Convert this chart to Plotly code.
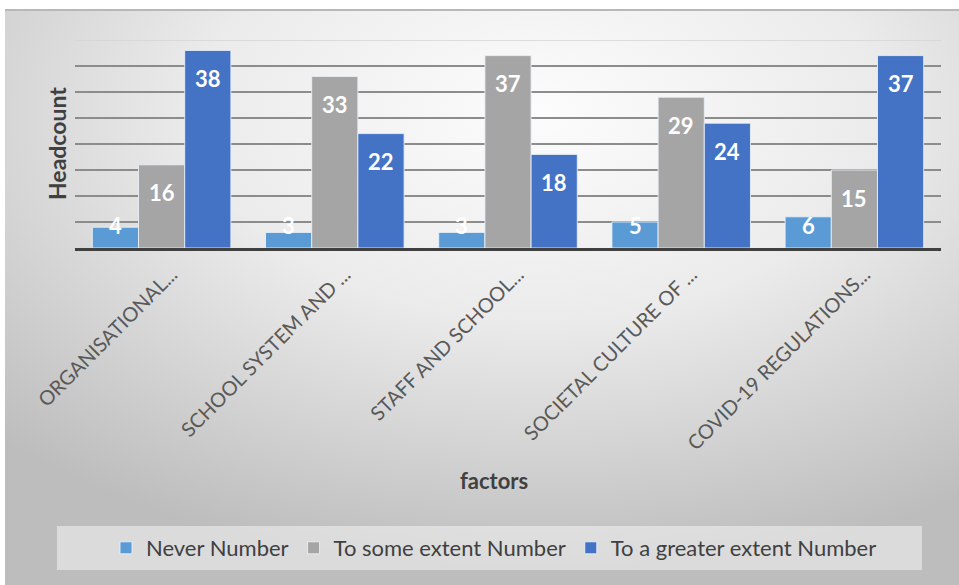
import base64
import plotly.graph_objects as go

# Survey results: how much each factor affected respondents
categories = [
    "ORGANISATIONAL...",
    "SCHOOL SYSTEM AND ...",
    "STAFF AND SCHOOL...",
    "SOCIETAL CULTURE OF ...",
    "COVID-19 REGULATIONS...",
]
never = [4, 3, 3, 5, 6]
some_extent = [16, 33, 37, 29, 15]
greater_extent = [38, 22, 18, 24, 37]

series_names = ["Never Number", "To some extent Number", "To a greater extent Number"]
series_colors = ["#5B9BD5", "#A5A5A5", "#4472C4"]
series_values = [never, some_extent, greater_extent]

W, H = 959, 585
PL, PR, PT, PB = 75, 941, 40, 248   # plot area in pixels
Y_MAX = 40
FONT = "Lato, 'Open Sans', sans-serif"


def px_x(x):
    return (x - PL) / (PR - PL)


def px_y(y):
    return (PB - y) / (PB - PT)


x_idx = list(range(len(categories)))

fig = go.Figure()
for name, color, vals in zip(series_names, series_colors, series_values):
    fig.add_trace(go.Bar(
        x=x_idx, y=vals, name=name,
        marker=dict(color=color, line=dict(color="rgba(235,242,250,0.85)", width=1)),
        hoverinfo="y+name",
    ))

# Value labels: white, bold, just inside the bar end; short bars get a fixed lift
group_width = 0.8
bar_w = group_width / len(series_values)
px_per_unit = (PB - PT) / Y_MAX
annotations = []
for s, vals in enumerate(series_values):
    offset = -group_width / 2 + bar_w * (s + 0.5)
    for i, v in enumerate(vals):
        inside = v * px_per_unit - 28
        if inside >= 23:
            y, shift = v, -28
        else:
            y, shift = 0, 23
        annotations.append(dict(
            x=i + offset, y=y, xref="x", yref="y", yshift=shift,
            text=f"<b>{v}</b>", showarrow=False,
            font=dict(family=FONT, size=22, color="white"),
            xanchor="center", yanchor="middle",
        ))

# Axis titles
annotations.append(dict(
    x=px_x(57), y=px_y(144), xref="paper", yref="paper",
    text="<b>Headcount</b>", textangle=-90, showarrow=False,
    font=dict(family=FONT, size=23, color="#404040"),
    xanchor="center", yanchor="middle",
))
annotations.append(dict(
    x=px_x(494), y=px_y(480), xref="paper", yref="paper",
    text="<b>factors</b>", showarrow=False,
    font=dict(family=FONT, size=22, color="#404040"),
    xanchor="center", yanchor="middle",
))

# Chart-area fill: soft radial gradient, light near the top centre
gx0, gy0, gx1, gy1 = 5, 9, 959, 585
svg = (
    f'<svg xmlns="http://www.w3.org/2000/svg" width="{gx1-gx0}" height="{gy1-gy0}">'
    '<defs><radialGradient id="g" cx="0.56" cy="0.18" r="0.8">'
    '<stop offset="0" stop-color="#fcfcfc"/>'
    '<stop offset="0.45" stop-color="#ebebeb"/>'
    '<stop offset="1" stop-color="#bdbdbd"/>'
    '</radialGradient></defs>'
    f'<rect width="{gx1-gx0}" height="{gy1-gy0}" fill="url(#g)"/></svg>'
)
bg_src = "data:image/svg+xml;base64," + base64.b64encode(svg.encode()).decode()

shapes = [
    # top border of the chart area
    dict(type="line", xref="paper", yref="paper",
         x0=px_x(gx0), x1=px_x(gx1), y0=px_y(gy0 + 1), y1=px_y(gy0 + 1),
         line=dict(color="#b8b8b8", width=2), layer="below"),
    # topmost gridline, lighter than the rest
    dict(type="line", xref="paper", yref="y", x0=0, x1=1, y0=Y_MAX, y1=Y_MAX,
         line=dict(color="#d4d4d4", width=1.5), layer="below"),
    # legend panel
    dict(type="rect", xref="paper", yref="paper",
         x0=px_x(57), x1=px_x(922), y0=px_y(526), y1=px_y(570),
         fillcolor="rgba(255,255,255,0.45)", line=dict(width=0), layer="below"),
]

fig.update_layout(
    width=W, height=H,
    margin=dict(l=PL, r=W - PR, t=PT, b=H - PB, autoexpand=False),
    paper_bgcolor="white",
    plot_bgcolor="rgba(0,0,0,0)",
    barmode="group", bargap=0.2, bargroupgap=0.0,
    font=dict(family=FONT, color="#595959"),
    images=[dict(
        source=bg_src, xref="paper", yref="paper",
        x=px_x(gx0), y=px_y(gy0), sizex=(gx1 - gx0) / (PR - PL),
        sizey=(gy1 - gy0) / (PB - PT), xanchor="left", yanchor="top",
        sizing="stretch", layer="below",
    )],
    shapes=shapes,
    annotations=annotations,
    showlegend=True,
    legend=dict(
        orientation="h", x=px_x(494), y=px_y(548),
        xanchor="center", yanchor="middle",
        bgcolor="rgba(0,0,0,0)",
        font=dict(family=FONT, size=22, color="#404040"),
        itemwidth=30,
    ),
)

fig.update_xaxes(
    tickvals=x_idx, ticktext=categories, tickangle=-45,
    range=[-0.5, len(categories) - 0.5],
    tickfont=dict(family=FONT, size=20, color="#595959"),
    ticklabelshift=10, ticklabelstandoff=4,
    showline=True, linecolor="#404040", linewidth=3,
    showgrid=False, ticks="", automargin=False,
)
fig.update_yaxes(
    range=[0, Y_MAX], tickvals=list(range(5, Y_MAX, 5)),
    showticklabels=False, showgrid=True, gridcolor="#8c8c8c", gridwidth=1.5,
    zeroline=False, showline=False, ticks="", automargin=False,
)

fig.write_html("out.html")
